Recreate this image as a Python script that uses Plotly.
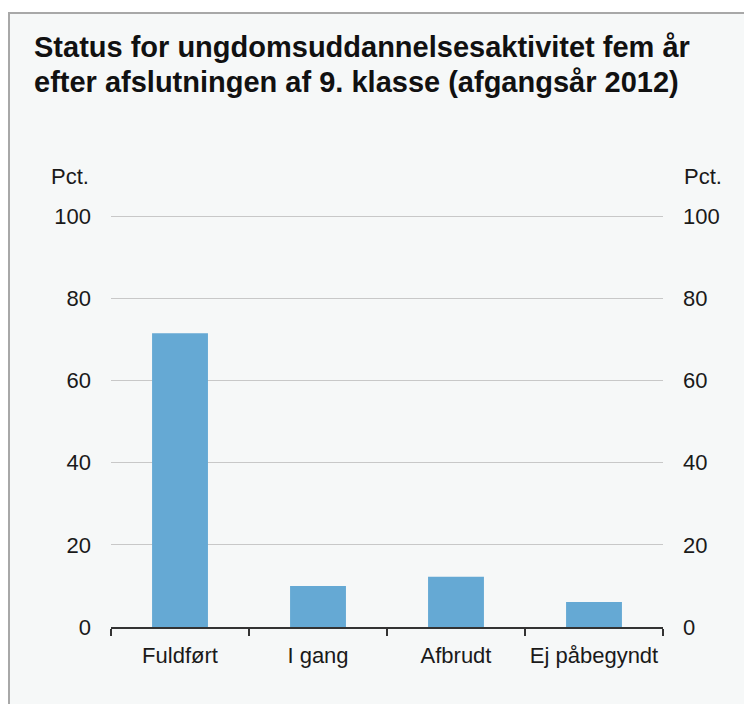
import plotly.graph_objects as go

categories = ["Fuldført", "I gang", "Afbrudt", "Ej påbegyndt"]
values = [71.5, 10.0, 12.2, 6.1]
tick_vals = [0, 20, 40, 60, 80, 100]
title_lines = ["Status for ungdomsuddannelsesaktivitet fem år",
               "efter afslutningen af 9. klasse (afgangsår 2012)"]
unit_label = "Pct."

W, H = 752, 704
Y_TOP = 100.5
L, R, B = 103, 97, 85
T = round(619 - (619 - 208) * Y_TOP / 100)
pw, ph = W - L - R, H - T - B

def px_x(x):
    return (x - L) / pw

def px_y(y):
    return (H - B - y) / ph

FONT = "Liberation Sans, Arial, sans-serif"
PANEL = "#f6f8f8"
TXT = "#1a1a1a"
TICK_SIZE = 22

fig = go.Figure()
fig.add_trace(go.Bar(x=categories, y=values, marker=dict(color="#65a9d4", line=dict(width=0)),
                     width=0.405, showlegend=False, hoverinfo="x+y"))
fig.add_trace(go.Scatter(x=categories, y=values, yaxis="y2", mode="markers",
                         marker=dict(opacity=0), showlegend=False, hoverinfo="skip"))

fig.update_layout(
    width=W, height=H,
    margin=dict(l=L, r=R, t=T, b=B, pad=0),
    paper_bgcolor="white",
    plot_bgcolor="rgba(0,0,0,0)",
    font=dict(family=FONT, color=TXT, size=TICK_SIZE),
    xaxis=dict(
        type="category", showgrid=False, showline=True, linecolor="#333333", linewidth=1.5,
        ticks="outside", tickson="boundaries", ticklen=7, tickcolor="#333333", tickwidth=1.5,
        tickfont=dict(size=TICK_SIZE, color=TXT), ticklabelstandoff=8, zeroline=False,
    ),
    yaxis=dict(
        range=[0, Y_TOP], tickvals=tick_vals, showgrid=True, gridcolor="#c8c8c8", gridwidth=1,
        zeroline=False, showline=False, ticks="", tickfont=dict(size=TICK_SIZE, color=TXT),
        ticklabelstandoff=19,
    ),
    yaxis2=dict(
        range=[0, Y_TOP], tickvals=tick_vals, overlaying="y", side="right", showgrid=False,
        zeroline=False, showline=False, ticks="", tickfont=dict(size=TICK_SIZE, color=TXT),
        ticklabelstandoff=19,
    ),
    shapes=[dict(type="rect", xref="paper", yref="paper", layer="below",
                 x0=px_x(1), x1=px_x(W + 20), y0=px_y(H + 20), y1=px_y(5),
                 fillcolor=PANEL, line=dict(color="#a8a8a8", width=2))],
    annotations=[
        dict(text="<b>" + title_lines[0] + "</b>", xref="paper", yref="paper",
             x=px_x(24), y=px_y(21), xanchor="left", yanchor="top", align="left", showarrow=False,
             font=dict(size=29, color="#111111", family=FONT)),
        dict(text="<b>" + title_lines[1] + "</b>", xref="paper", yref="paper",
             x=px_x(24), y=px_y(56), xanchor="left", yanchor="top", align="left", showarrow=False,
             font=dict(size=29, color="#111111", family=FONT)),
        dict(text=unit_label, xref="paper", yref="paper", x=px_x(83), y=px_y(169),
             xanchor="right", yanchor="middle", showarrow=False, font=dict(size=TICK_SIZE, color=TXT)),
        dict(text=unit_label, xref="paper", yref="paper", x=px_x(674), y=px_y(169),
             xanchor="left", yanchor="middle", showarrow=False, font=dict(size=TICK_SIZE, color=TXT)),
    ],
)

fig.write_html("out.html")
